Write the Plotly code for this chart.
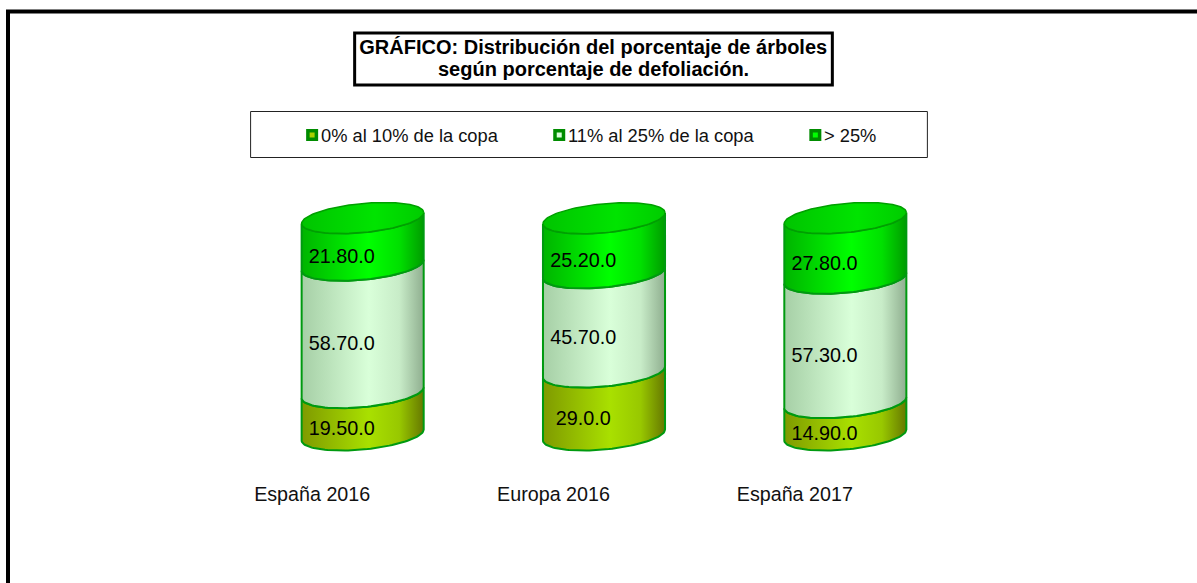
import numpy as np
import plotly.graph_objects as go

# ---- data ----
categories = ["España 2016", "Europa 2016", "España 2017"]
series_names = ["0% al 10% de la copa", "11% al 25% de la copa", "> 25%"]
low_defoliation = [19.5, 29.0, 14.9]
mid_defoliation = [58.7, 45.7, 57.3]
high_defoliation = [21.8, 25.2, 27.8]
low_labels = ["19.50.0", "29.0.0", "14.90.0"]
mid_labels = ["58.70.0", "45.70.0", "57.30.0"]
high_labels = ["21.80.0", "25.20.0", "27.80.0"]
title_line_1 = "<b>GRÁFICO: Distribución del porcentaje de árboles</b>"
title_line_2 = "<b>según porcentaje de defoliación.</b>"

# ---- layout geometry (page pixels) ----
W, H = 1197, 583
PLOT_L, PLOT_R = 241.9, 965.6
PLOT_T, PLOT_B = 180.0, 470.0           # plot area, a little taller than the cylinders
ZERO_Y, HUNDRED_Y = 435.0, 218.0        # where 0 % and 100 % fall
FONT = "Liberation Sans, Arial, sans-serif"
PX_X = (PLOT_R - PLOT_L) / 3.0          # pixels per category
PX_Y = (ZERO_Y - HUNDRED_Y) / 100.0     # pixels per percent
Y_RANGE = [(ZERO_Y - PLOT_B) / PX_Y, (ZERO_Y - PLOT_T) / PX_Y]
HALF_W = 61.0 / PX_X                    # cylinder half width in x units
TILT = 5.5 / PX_Y                       # ellipse tilt, y units
RY = 14.5 / PX_Y                        # ellipse semi-minor axis, y units
LABEL_DX = -20.8 / PX_X
LABEL_DY = -16.5 / PX_Y
TICK_DX = -50.5 / PX_X

OUTLINE = "#009a10"
GRADIENTS = [
    [[0, "#7f9a00"], [0.55, "#a9e000"], [0.8, "#98c800"], [1, "#667800"]],
    [[0, "#a6cfa6"], [0.55, "#d9ffd9"], [0.8, "#c8ecc8"], [1, "#8fae8f"]],
    [[0, "#00b400"], [0.55, "#00ff00"], [0.8, "#00e000"], [1, "#009c00"]],
]
CAP_GRADIENT = [[0, "#00c400"], [0.6, "#00e400"], [1, "#00cc00"]]


def px(x):
    return (x - PLOT_L) / (PLOT_R - PLOT_L)


def py(y):
    return (PLOT_B - y) / (PLOT_B - PLOT_T)


def arc(cx, level, t0, t1, n=60):
    t = np.linspace(t0, t1, n)
    return cx + HALF_W * np.cos(t), level + TILT * np.cos(t) + RY * np.sin(t)


fig = go.Figure()
stack = [low_defoliation, mid_defoliation, high_defoliation]
stack_labels = [low_labels, mid_labels, high_labels]

for c in range(len(categories)):
    base = 0.0
    for s, values in enumerate(stack):
        top = base + values[c]
        xu, yu = arc(c, top, np.pi, 2 * np.pi)      # front arc of upper rim
        xl, yl = arc(c, base, 2 * np.pi, np.pi)     # front arc of lower rim
        fig.add_trace(go.Scatter(
            x=np.r_[xu, xl, xu[0]], y=np.r_[yu, yl, yu[0]],
            mode="lines", fill="toself", name=series_names[s],
            line=dict(color=OUTLINE, width=2),
            fillgradient=dict(type="horizontal", colorscale=GRADIENTS[s],
                              start=c - HALF_W, stop=c + HALF_W),
            hoverinfo="skip", showlegend=False,
        ))
        base = top
    xc, yc = arc(c, base, 0, 2 * np.pi, 120)
    fig.add_trace(go.Scatter(
        x=xc, y=yc, mode="lines", fill="toself",
        line=dict(color="#00a000", width=1.5),
        fillgradient=dict(type="horizontal", colorscale=CAP_GRADIENT,
                          start=c - HALF_W, stop=c + HALF_W),
        hoverinfo="skip", showlegend=False,
    ))
    base = 0.0
    for s, values in enumerate(stack):
        fig.add_trace(go.Scatter(
            x=[c + LABEL_DX], y=[base + values[c] / 2 + LABEL_DY],
            mode="text", text=[stack_labels[s][c]], textposition="middle center",
            textfont=dict(family=FONT, size=19.8, color="#000000"),
            hoverinfo="skip", showlegend=False,
        ))
        base += values[c]

shapes = []
# outer frame: only top and left edges are in view, others run past the page
shapes.append(dict(type="rect", xref="paper", yref="paper",
                   x0=px(8), x1=px(W + 40), y0=py(11.5), y1=py(H + 40),
                   line=dict(color="#000000", width=4), fillcolor="rgba(0,0,0,0)", layer="below"))
# title frame
shapes.append(dict(type="rect", xref="paper", yref="paper",
                   x0=px(354.5), x1=px(832), y0=py(33), y1=py(85),
                   line=dict(color="#000000", width=3), fillcolor="#ffffff", layer="below"))
# legend frame
shapes.append(dict(type="rect", xref="paper", yref="paper",
                   x0=px(250.5), x1=px(927), y0=py(111.5), y1=py(157.5),
                   line=dict(color="#222222", width=1), fillcolor="#ffffff", layer="below"))

annotations = [dict(xref="paper", yref="paper", x=px(593), y=py(69),
                    xanchor="center", yanchor="middle", showarrow=False, text=title_line_2,
                    font=dict(family=FONT, size=20, color="#000000"))]
swatch_x = [312, 559, 815]
text_x = [319, 566, 822]
swatch_inner = ["#a9d000", "#d9ffd9", "#00ff00"]
for name, sx, tx, col in zip(series_names, swatch_x, text_x, swatch_inner):
    shapes.append(dict(type="rect", xref="paper", yref="paper",
                       x0=px(sx - 6), x1=px(sx + 6), y0=py(135 - 6), y1=py(135 + 6),
                       line=dict(width=0), fillcolor="#008c00", layer="above"))
    shapes.append(dict(type="rect", xref="paper", yref="paper",
                       x0=px(sx - 2.5), x1=px(sx + 2.5), y0=py(135 - 2.5), y1=py(135 + 2.5),
                       line=dict(width=0), fillcolor=col, layer="above"))
    annotations.append(dict(xref="paper", yref="paper", x=px(tx), y=py(135),
                            xanchor="left", yanchor="middle", showarrow=False, text=name,
                            font=dict(family=FONT, size=18.3, color="#111111")))

fig.update_layout(
    width=W, height=H, autosize=False,
    margin=dict(l=PLOT_L, r=W - PLOT_R, t=PLOT_T, b=H - PLOT_B, pad=0, autoexpand=False),
    paper_bgcolor="#ffffff", plot_bgcolor="rgba(0,0,0,0)",
    showlegend=False, shapes=shapes, annotations=annotations,
    title=dict(text=title_line_1, xref="paper", yref="container", x=px(593), xanchor="center",
               y=1 - 47 / H, yanchor="middle",
               font=dict(family=FONT, size=20, color="#000000")),
    xaxis=dict(range=[-0.5, 2.5], showgrid=False, zeroline=False, showline=False,
               tickmode="array", tickvals=[i + TICK_DX for i in range(len(categories))],
               ticktext=categories, ticks="", ticklabelstandoff=10,
               tickfont=dict(family=FONT, size=19.7, color="#111111"), fixedrange=True),
    yaxis=dict(range=Y_RANGE, visible=False, fixedrange=True),
)

fig.write_html("out.html", config={"displayModeBar": False},
               post_script="document.body.style.margin='0';document.body.style.overflow='hidden';")
